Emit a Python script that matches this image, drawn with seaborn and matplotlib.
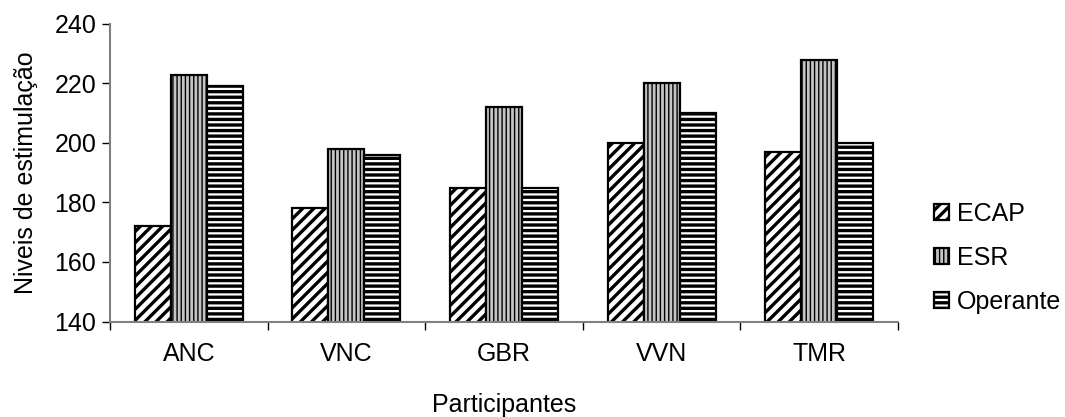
import numpy as np
import pandas as pd
import matplotlib
matplotlib.use("Agg")
import matplotlib.pyplot as plt
import seaborn as sns
from matplotlib.patches import Patch

participantes = ["ANC", "VNC", "GBR", "VVN", "TMR"]
metodos = ["ECAP", "ESR", "Operante"]
ecap = [172, 178, 185, 200, 197]
esr = [223, 198, 212, 220, 228]
operante = [219, 196, 185, 210, 200]

df = pd.DataFrame({
    "Participantes": participantes * 3,
    "Metodo": [m for m in metodos for _ in participantes],
    "Nivel": ecap + esr + operante,
})

sns.set_theme(style="white")
plt.rcParams["font.family"] = ["Liberation Sans", "DejaVu Sans"]
plt.rcParams["hatch.linewidth"] = 2.4
plt.rcParams["hatch.color"] = "black"
plt.rcParams["text.color"] = "black"
plt.rcParams["axes.labelcolor"] = "black"
plt.rcParams["xtick.color"] = "black"
plt.rcParams["ytick.color"] = "black"

FS = 18

fig = plt.figure(figsize=(10.65, 4.17), dpi=100)
ax = fig.add_axes([0.1033, 0.229, 0.7400, 0.7136])

sns.barplot(data=df, x="Participantes", y="Nivel", hue="Metodo",
            order=participantes, hue_order=metodos, width=0.685,
            palette=["white", "#c4c4c4", "white"], edgecolor="black",
            linewidth=1.6, saturation=1, legend=False, ax=ax)

estilos = {"ECAP": ("white", "///"), "ESR": ("#c4c4c4", "||||"), "Operante": ("white", "---")}
for cont, m in zip(ax.containers, metodos):
    fc, h = estilos[m]
    for bar in cont:
        bar.set_facecolor(fc)
        bar.set_hatch(h)
        bar.set_edgecolor("black")
        if m == "ESR":
            bar.set_hatch_linewidth(1.0)

ax.set_ylim(140, 240)
ax.set_xlim(-0.5, 4.5)
ax.set_yticks(np.arange(140, 241, 20))
ax.set_xticks(range(len(participantes)))
ax.set_xticklabels(participantes)
ax.set_xticks(np.arange(-0.5, 5.0, 1.0), minor=True)
ax.tick_params(axis="x", which="major", length=0, pad=15, labelsize=FS)
ax.tick_params(axis="x", which="minor", length=6, width=1, color="black", direction="out", bottom=True)
ax.tick_params(axis="y", length=6, width=1, color="black", direction="out", left=True, labelsize=FS, pad=4)

for s in ["top", "right"]:
    ax.spines[s].set_visible(False)
for s in ["left", "bottom"]:
    ax.spines[s].set_color("#808080")
    ax.spines[s].set_linewidth(1.5)

ax.set_xlabel("Participantes", fontsize=FS, labelpad=19)
ax.set_ylabel("Niveis de estimulação", fontsize=FS, labelpad=12)

handles = []
for m in metodos:
    fc, h = estilos[m]
    p = Patch(facecolor=fc, edgecolor="black", hatch=h, linewidth=1.6, label=m)
    handles.append(p)
leg = ax.legend(handles=handles, loc="center left", bbox_to_anchor=(1.045, 0.215),
                frameon=False, fontsize=FS, handlelength=0.6, handleheight=0.6,
                handletextpad=0.35, labelspacing=0.8, borderpad=0, borderaxespad=0)
for h, m in zip(leg.legend_handles, metodos):
    if m == "ESR":
        h.set_hatch_linewidth(1.0)

fig.savefig("out.png", dpi=100)
